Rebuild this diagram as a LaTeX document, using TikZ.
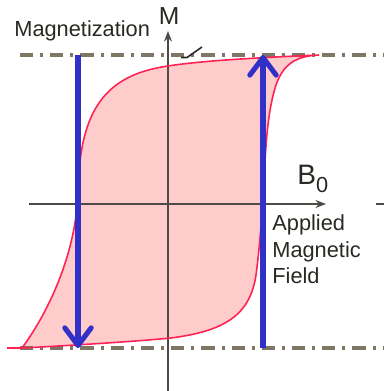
\documentclass[tikz,border=0pt]{standalone}
\usepackage{fontspec}
\setmainfont{Liberation Sans}
\usetikzlibrary{arrows.meta}
\definecolor{loopfill}{HTML}{FFCCCC}
\definecolor{loopline}{HTML}{FF2255}
\definecolor{bluearrow}{HTML}{3131C8}
\definecolor{dashcol}{HTML}{7E7766}
\definecolor{axiscol}{HTML}{4E4A45}
\definecolor{textcol}{HTML}{2A2822}
\tikzset{
  axisline/.style={draw=axiscol, line width=0.95pt, -{Stealth[length=6pt,width=4.5pt]}},
  plainaxis/.style={draw=axiscol, line width=0.95pt},
  limitline/.style={draw=dashcol, line width=1.8pt, dash pattern=on 7.5pt off 4pt on 1.7pt off 4pt},
  bigarrow/.style={draw=bluearrow, line width=2.9pt, -{Straight Barb[length=10pt,width=15pt,round]}},
  label/.style={text=textcol, inner sep=0pt, font=\fontsize{12.4}{15}\selectfont},
}
\begin{document}
\begin{tikzpicture}[x=0.02cm,y=-0.02cm]
\useasboundingbox (0,0) rectangle (384,391);
% hysteresis loop fill
\path[fill=loopfill] (319,55) .. controls (250,58) and (200,61) .. (168,66)
  .. controls (105,75) and (80,110) .. (78,190)
  .. controls (77,250) and (50,310) .. (22,348)
  .. controls (60,346) and (130,342) .. (171,338)
  .. controls (225,331) and (250,315) .. (256,275)
  .. controls (260,245) and (262,215) .. (264,180)
  .. controls (266,140) and (268,110) .. (276,85)
  .. controls (283,65) and (295,56) .. (319,55) -- cycle;
% axes
\coordinate (mbot) at (168,391);
\coordinate (mtop) at (168,31);
\coordinate (xl) at (29,204);
\coordinate (xr) at (326,204);
\coordinate (xs1) at (376,204);
\coordinate (xs2) at (384,204);
\draw[axisline] (mbot) -- (mtop);
\draw[axisline] (xl) -- (xr);
\draw[plainaxis] (xs1) -- (xs2);
% saturation lines
\coordinate (tl) at (20,55);
\coordinate (tr) at (384,55);
\coordinate (bl) at (20,348);
\coordinate (br) at (384,348);
\draw[limitline] (tl) -- (tr);
\draw[limitline] (bl) -- (br);
% small tick mark
\coordinate (k1) at (181,57.5);
\coordinate (k2) at (187,57.5);
\coordinate (k3) at (202,47);
\draw[draw=textcol, line width=0.9pt] (k1) -- (k2) -- (k3);
% loop outline
\draw[draw=loopline, line width=0.9pt] (319,55) .. controls (250,58) and (200,61) .. (168,66)
  .. controls (105,75) and (80,110) .. (78,190)
  .. controls (77,250) and (50,310) .. (22,348)
  .. controls (60,346) and (130,342) .. (171,338)
  .. controls (225,331) and (250,315) .. (256,275)
  .. controls (260,245) and (262,215) .. (264,180)
  .. controls (266,140) and (268,110) .. (276,85)
  .. controls (283,65) and (295,56) .. (319,55);
\coordinate (rl1) at (7,348);
\coordinate (rl2) at (22,348);
\draw[draw=loopline, line width=0.9pt] (rl1) -- (rl2);
% blue arrows
\coordinate (a1s) at (78,55);
\coordinate (a1e) at (78,348);
\coordinate (a2s) at (263,348);
\coordinate (a2e) at (263,55);
\draw[bigarrow] (a1s) -- (a1e);
\draw[bigarrow] (a2s) -- (a2e);
% labels
\node[label, anchor=base west] (magn) at (14,37) {Magnetization};
\node[label, anchor=base, font=\fontsize{14}{16}\selectfont] (mlab) at (169,25) {M};
\node[label, anchor=base west] (blab) at (297,185) {{\fontsize{16}{16}\selectfont B}\raisebox{-4.5pt}{\fontsize{12.4}{14}\selectfont 0}};
\node[label, anchor=base west] (app1) at (272,230) {Applied};
\node[label, anchor=base west] (app2) at (272,257) {Magnetic};
\node[label, anchor=base west] (app3) at (272,283) {Field};
\end{tikzpicture}
\end{document}
